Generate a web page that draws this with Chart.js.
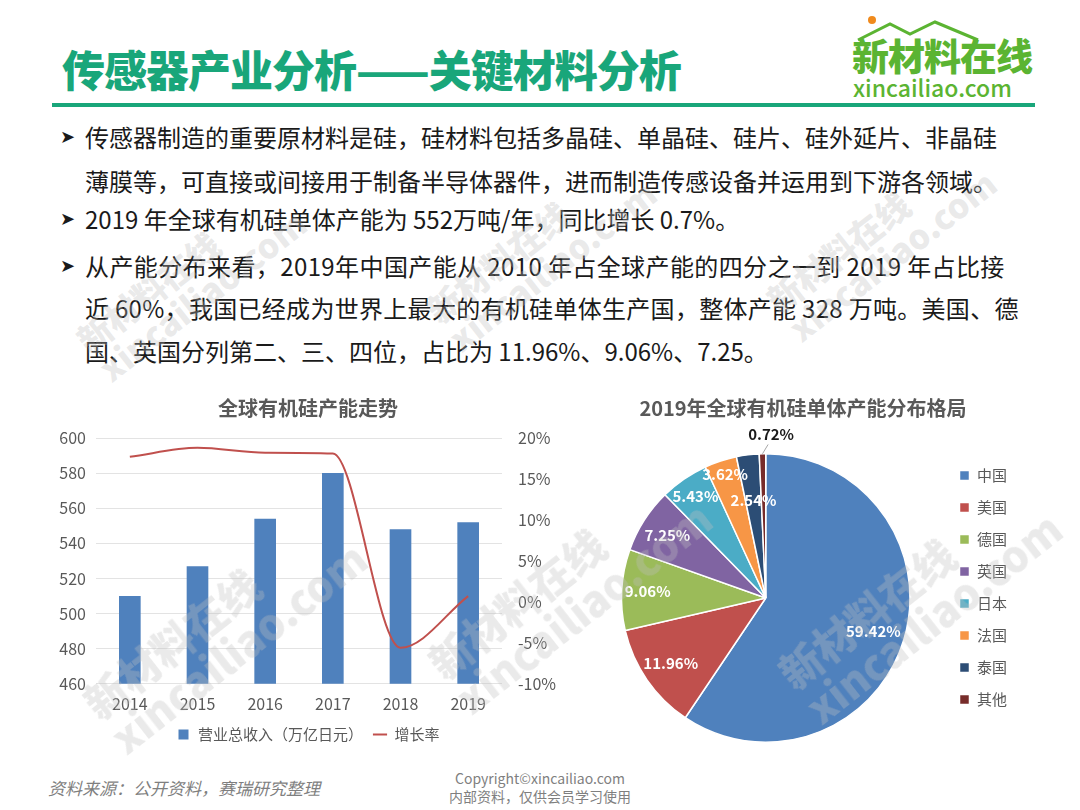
<!DOCTYPE html>
<html>
<head>
<meta charset="utf-8">
<script src="https://cdn.jsdelivr.net/npm/chart.js@4.4.1/dist/chart.umd.min.js"></script>
<style>
  body{margin:0;background:#fff;font-family:"Noto Sans CJK SC","Noto Sans",sans-serif;}
  #page{position:relative;width:1080px;height:810px;overflow:hidden;background:#fff;}
  .title{position:absolute;left:62px;top:37px;font-size:43px;font-weight:900;color:#19a67a;letter-spacing:-1px;white-space:nowrap;}
  .rule{position:absolute;left:52px;top:103px;width:983px;height:4px;background:#19a67a;}
  .logo1{position:absolute;left:852px;top:28px;font-size:37px;font-weight:900;color:#5bb432;letter-spacing:-1px;}
  .logo2{position:absolute;left:853px;top:70px;font-size:23px;font-weight:500;color:#5bb432;}
  .line{position:absolute;left:85px;font-size:24px;color:#1a1a1a;white-space:nowrap;}
  .bul{position:absolute;left:60px;font-size:18px;color:#1a1a1a;}
  .src{position:absolute;left:48px;top:775px;font-size:17px;font-style:italic;color:#7f7f7f;}
  .copy{position:absolute;left:440px;top:769px;width:200px;text-align:center;font-size:14px;line-height:18px;color:#7f7f7f;}
  .wm{position:absolute;color:rgba(190,190,190,0.33);font-weight:900;transform:rotate(-38deg);transform-origin:left top;white-space:nowrap;line-height:1.05;pointer-events:none;}
  #box1{position:absolute;left:40px;top:392px;width:530px;height:360px;}
  #box2{position:absolute;left:560px;top:392px;width:480px;height:360px;}
</style>
</head>
<body>
<div id="page">
  <div class="title">传感器产业分析——关键材料分析</div>
  <div class="rule"></div>
  <svg style="position:absolute;left:850px;top:12px" width="190" height="30">
    <circle cx="22" cy="8" r="4" fill="#f08a1c"/>
    <polyline points="8,28 40,12 60,22 85,10 128,28" fill="none" stroke="#5bb432" stroke-width="3"/>
  </svg>
  <div class="logo1">新材料在线</div>
  <div class="logo2">xincailiao.com</div>

  <div class="bul" style="top:122px">&#10148;</div>
  <div class="line" style="top:119px">传感器制造的重要原材料是硅，硅材料包括多晶硅、单晶硅、硅片、硅外延片、非晶硅</div>
  <div class="line" style="top:163px">薄膜等，可直接或间接用于制备半导体器件，进而制造传感设备并运用到下游各领域。</div>
  <div class="bul" style="top:204px">&#10148;</div>
  <div class="line" style="top:201px">2019 年全球有机硅单体产能为 552万吨/年，同比增长 0.7%。</div>
  <div class="bul" style="top:251px">&#10148;</div>
  <div class="line" style="top:248px;letter-spacing:0.4px">从产能分布来看，2019年中国产能从 2010 年占全球产能的四分之一到 2019 年占比接</div>
  <div class="line" style="top:290px;letter-spacing:0.3px">近 60%，我国已经成为世界上最大的有机硅单体生产国，整体产能 328 万吨。美国、德</div>
  <div class="line" style="top:333px">国、英国分列第二、三、四位，占比为 11.96%、9.06%、7.25。</div>

  <div id="box1"><canvas id="c1"></canvas></div>
  <div id="box2"><canvas id="c2"></canvas></div>

  <div class="wm" style="left:70px;top:330px;font-size:34px">新材料在线<br>xincailiao.com</div>
  <div class="wm" style="left:420px;top:300px;font-size:34px">新材料在线<br>xincailiao.com</div>
  <div class="wm" style="left:760px;top:290px;font-size:34px">新材料在线<br>xincailiao.com</div>
  <div class="wm" style="left:75px;top:690px;font-size:42px">新材料在线<br>xincailiao.com</div>
  <div class="wm" style="left:420px;top:650px;font-size:42px">新材料在线<br>xincailiao.com</div>
  <div class="wm" style="left:770px;top:660px;font-size:42px">新材料在线<br>xincailiao.com</div>

  <div class="src">资料来源：公开资料，赛瑞研究整理</div>
  <div class="copy">Copyright©xincailiao.com<br>内部资料，仅供会员学习使用</div>
</div>
<script>
  // trend chart data
  const years = ['2014', '2015', '2016', '2017', '2018', '2019']
  const capacity = [510, 527, 554, 580, 548, 552]
  const growth = [17.7, 18.8, 18.2, 18.1, -5.6, 0.7]
  const leftTicks = [460, 600, 20]
  const rightTicks = [-10, 20, 5]

  // 2019 distribution data
  const countries = ['中国', '美国', '德国', '英国', '日本', '法国', '泰国', '其他']
  const shares = [59.42, 11.96, 9.06, 7.25, 5.43, 3.62, 2.54, 0.72]

  const pieColors = ['#4f81bd', '#c0504d', '#9bbb59', '#8064a2', '#4bacc6', '#f79646', '#2c4d75', '#772c2a']
  const labelRadius = [0.78, 0.8, 0.82, 0.81, 0.86, 0.9, 0.68, 1.12]
  const grey = '#595959'
  const font = '"Noto Sans CJK SC", "Noto Sans", sans-serif'

  Chart.defaults.font.family = font
  Chart.defaults.color = grey

  new Chart(document.getElementById('c1'), {
    type: 'bar',
    data: {
      labels: years,
      datasets: [
        {
          label: '营业总收入（万亿日元）',
          data: capacity,
          backgroundColor: '#4f81bd',
          yAxisID: 'y',
          order: 2,
          barPercentage: 0.32,
          categoryPercentage: 1,
          pointStyle: 'rect',
        },
        {
          type: 'line',
          label: '增长率',
          data: growth,
          borderColor: '#c0504d',
          backgroundColor: '#c0504d',
          borderWidth: 2,
          cubicInterpolationMode: 'monotone',
          pointRadius: 0,
          yAxisID: 'y1',
          order: 1,
          pointStyle: 'line',
        },
      ],
    },
    options: {
      responsive: true,
      maintainAspectRatio: false,
      animation: false,
      layout: {padding: {left: 16, right: 10, top: 0, bottom: 0}},
      plugins: {
        title: {
          display: true,
          text: '全球有机硅产能走势',
          font: {size: 20, weight: 'bold'},
          color: grey,
          padding: {top: 4, bottom: 18},
        },
        legend: {
          position: 'bottom',
          labels: {
            usePointStyle: true,
            boxWidth: 14,
            boxHeight: 10,
            font: {size: 15},
            color: grey,
            padding: 10,
            sort: (a, b) => a.datasetIndex - b.datasetIndex,
          },
        },
        tooltip: {enabled: false},
      },
      scales: {
        x: {
          grid: {display: false},
          border: {display: false},
          ticks: {font: {size: 16}, color: grey, padding: 3},
        },
        y: {
          min: leftTicks[0],
          max: leftTicks[1],
          ticks: {stepSize: leftTicks[2], font: {size: 16}, color: grey, padding: 10},
          grid: {color: '#e3e3e3', drawTicks: false},
          border: {display: false},
          afterFit: s => { s.width = 40 },
        },
        y1: {
          position: 'right',
          min: rightTicks[0],
          max: rightTicks[1],
          ticks: {stepSize: rightTicks[2], font: {size: 16}, color: grey, padding: 8, callback: v => v + '%'},
          grid: {display: false},
          border: {display: false},
          afterFit: s => { s.width = 58 },
        },
      },
    },
  })

  // percent labels inside / outside slices
  const pieLabels = {
    id: 'pieLabels',
    afterLayout(chart) {
      // nudge the legend column down a little
      chart.legend.top += 20
      chart.legend.bottom += 20
    },
    afterDatasetsDraw(chart) {
      const ctx = chart.ctx
      const arcs = chart.getDatasetMeta(0).data
      ctx.save()
      ctx.font = 'bold 15px ' + font
      ctx.textAlign = 'center'
      ctx.textBaseline = 'middle'
      arcs.forEach((arc, i) => {
        const mid = (arc.startAngle + arc.endAngle) / 2
        const r = arc.outerRadius * labelRadius[i]
        const x = arc.x + Math.cos(mid) * r
        const y = arc.y + Math.sin(mid) * r
        const txt = shares[i].toFixed(2) + '%'
        if (labelRadius[i] > 1) {
          ctx.strokeStyle = '#a6a6a6'
          ctx.lineWidth = 1
          ctx.beginPath()
          ctx.moveTo(arc.x + Math.cos(mid) * arc.outerRadius, arc.y + Math.sin(mid) * arc.outerRadius)
          ctx.lineTo(x + 6, y + 8)
          ctx.stroke()
          ctx.fillStyle = '#1a1a1a'
          ctx.fillText(txt, x + 9, y - 2)
        } else {
          ctx.fillStyle = '#ffffff'
          ctx.fillText(txt, x, y)
        }
      })
      ctx.restore()
    },
  }

  new Chart(document.getElementById('c2'), {
    type: 'pie',
    data: {
      labels: countries,
      datasets: [{
        data: shares,
        backgroundColor: pieColors,
        borderColor: '#ffffff',
        borderWidth: 1.5,
      }],
    },
    plugins: [pieLabels],
    options: {
      responsive: true,
      maintainAspectRatio: false,
      animation: false,
      layout: {padding: {left: 29, right: 23, top: 0, bottom: 9}},
      plugins: {
        title: {
          display: true,
          text: '2019年全球有机硅单体产能分布格局',
          font: {size: 20, weight: 'bold'},
          color: grey,
          padding: {top: 4, bottom: 33},
        },
        legend: {
          position: 'right',
          labels: {
            boxWidth: 10,
            boxHeight: 10,
            font: {size: 15},
            color: grey,
            padding: 17,
          },
        },
        tooltip: {enabled: false},
      },
    },
  })
</script>
</body>
</html>
